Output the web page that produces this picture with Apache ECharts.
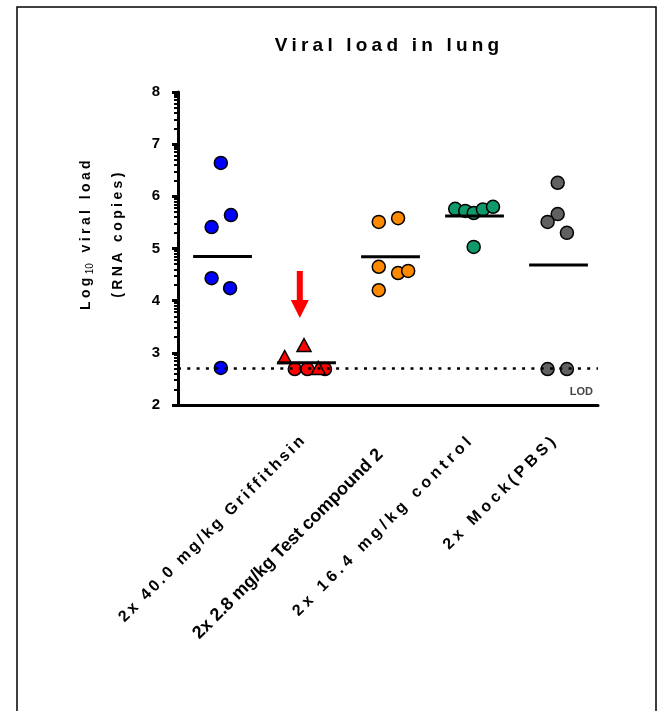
<!DOCTYPE html>
<html>
<head>
<meta charset="utf-8">
<script src="https://cdn.jsdelivr.net/npm/echarts@6/dist/echarts.min.js"></script>
<style>
  html, body { margin: 0; padding: 0; background: #fff; }
  #chart { width: 661px; height: 711px; }
</style>
</head>
<body>
<div id="chart"></div>
<script>
// labels under the x ticks (first tick has no label in the figure)
const tickLabels = ['', '2x 40.0 mg/kg Griffithsin', '2x 2.8 mg/kg Test compound 2', '2x 16.4 mg/kg control', '2x Mock(PBS)'];

// per-animal log10 viral load; x = group position (1..5) incl. jitter
const blueX = [1.01, 1.13, 0.90, 0.90, 1.12, 1.01];
const blueY = [6.64, 5.64, 5.41, 4.43, 4.24, 2.71];
const redCircleX = [1.89, 2.04, 2.25];
const redCircleY = [2.69, 2.69, 2.69];
const redTriangleX = [2.00, 1.77, 2.17];
const redTriangleY = [3.15, 2.92, 2.71];
const orangeX = [2.89, 3.12, 2.89, 3.12, 3.24, 2.89];
const orangeY = [5.51, 5.58, 4.65, 4.53, 4.57, 4.20];
const greenX = [3.80, 3.92, 4.02, 4.13, 4.25, 4.02];
const greenY = [5.76, 5.72, 5.68, 5.75, 5.80, 5.03];
const grayX = [5.02, 5.02, 4.90, 5.13, 4.90, 5.13];
const grayY = [6.26, 5.66, 5.51, 5.30, 2.69, 2.69];

const lodValue = 2.7;
// red arrow above the test compound group
const arrowX = 1.95;
const arrowY = [4.57, 3.84];

const zip = (xs, ys) => xs.map((x, i) => [x, ys[i]]);
const mean = arr => arr.reduce((a, b) => a + b, 0) / arr.length;
// wrap every character in a rich fragment so it gets letter spacing
const spaced = (txt, style) => txt.split('').map(c => '{' + style + '|' + c + '}').join('');

const groupMeans = [
  mean(blueY),
  mean(redCircleY.concat(redTriangleY)),
  mean(orangeY),
  mean(greenY),
  mean(grayY)
];

// log-style minor ticks between the integer ticks
const minorTicks = [];
for (let n = 2; n < 8; n++) {
  for (let k = 2; k <= 9; k++) minorTicks.push(n + Math.log10(k));
}

const scatter = (name, data, color, symbol, size) => ({
  name: name,
  type: 'scatter',
  xAxisIndex: 1,
  symbol: symbol,
  symbolSize: size,
  itemStyle: {color: color, borderColor: '#000', borderWidth: 1.5, opacity: 1},
  data: data,
  z: 3
});

const meanSeries = groupMeans.map((m, i) => ({
  type: 'line',
  xAxisIndex: 1,
  symbol: 'none',
  lineStyle: {color: '#000', width: 3},
  data: [[i + 1.03 - 0.35, m], [i + 1.03 + 0.35, m]],
  z: 4
}));

const xLabelFormatter = (v, i) => {
  if (v.indexOf('Test compound') >= 0) return '{b|' + v + '}';
  return spaced(v, i >= 3 ? 'd' : 'c');
};

const chart = echarts.init(document.getElementById('chart'));
const option = {
  animation: false,
  backgroundColor: '#fff',
  title: {
    text: spaced('Viral load in lung', 't'),
    left: 384,
    textAlign: 'center',
    top: 31,
    textStyle: {
      rich: {
        t: {fontFamily: 'Liberation Sans', fontSize: 19, fontWeight: 'bold', color: '#000', padding: [0, 4.2, 0, 0]}
      }
    }
  },
  graphic: [{
    type: 'rect',
    silent: true,
    shape: {x: 17, y: 7, width: 639, height: 720},
    style: {fill: 'none', stroke: '#000', lineWidth: 1.5}
  }],
  grid: {left: 178, right: 63, top: 92, bottom: 306, containLabel: false, outerBoundsMode: 'none'},
  xAxis: [
    {
      type: 'category',
      data: tickLabels,
      boundaryGap: true,
      axisLine: {lineStyle: {color: '#000', width: 3}},
      axisTick: {alignWithLabel: true, length: 8, lineStyle: {color: '#000', width: 3}},
      axisLabel: {
        interval: 0,
        rotate: 45,
        margin: 32,
        color: '#000',
        formatter: xLabelFormatter,
        rich: {
          b: {fontFamily: 'Liberation Sans', fontWeight: 'bold', fontSize: 18, color: '#000', padding: [10, 16, 0, 0]},
          c: {fontFamily: 'Liberation Sans', fontWeight: 'bold', fontSize: 16, color: '#000', padding: [0, 2.9, 0, 0]},
          d: {fontFamily: 'Liberation Sans', fontWeight: 'bold', fontSize: 16, color: '#000', padding: [0, 4.1, 0, 0]}
        }
      },
      splitLine: {show: false}
    },
    {type: 'value', min: 0.5, max: 5.5, show: false}
  ],
  yAxis: [
    {
      type: 'value',
      min: 2,
      max: 8,
      interval: 1,
      name: spaced('Log', 'a') + '{s|10}' + spaced(' viral load', 'a') + '\n' + spaced('(RNA copies)', 'a'),
      nameLocation: 'middle',
      nameRotate: 90,
      nameGap: 44,
      nameTextStyle: {
        padding: [0, 0, 0, 30],
        rich: {
          a: {fontFamily: 'Liberation Sans', fontWeight: 'bold', fontSize: 14, color: '#000', lineHeight: 32, padding: [0, 3.4, 0, 0]},
          s: {fontFamily: 'Liberation Sans', fontSize: 10, color: '#000', verticalAlign: 'middle', padding: [8, 3.4, 0, 0]}
        }
      },
      axisLine: {show: true, lineStyle: {color: '#000', width: 3}},
      axisTick: {show: true, length: 6, lineStyle: {color: '#000', width: 3}},
      axisLabel: {color: '#000', fontFamily: 'Liberation Sans', fontWeight: 'bold', fontSize: 15, margin: 18},
      splitLine: {show: false}
    },
    {
      type: 'value',
      min: 2,
      max: 8,
      position: 'left',
      axisLine: {show: false},
      axisTick: {show: true, customValues: minorTicks, length: 4, lineStyle: {color: '#000', width: 2}},
      axisLabel: {show: false},
      splitLine: {show: false}
    }
  ],
  series: [
    Object.assign(scatter('Griffithsin', zip(blueX, blueY), '#0000ff', 'circle', 13), {
      markLine: {
        silent: true,
        symbol: 'none',
        lineStyle: {color: '#000', width: 2.5, type: [3, 6.3]},
        label: {
          formatter: 'LOD',
          position: 'insideEndBottom',
          padding: [13, 0, 0, 0],
          fontFamily: 'Liberation Sans',
          fontWeight: 'bold',
          fontSize: 11,
          color: '#444'
        },
        data: [{yAxis: lodValue}]
      }
    }),
    scatter('Test compound 2', zip(redCircleX, redCircleY), '#ff0000', 'circle', 13),
    scatter('Test compound 2', zip(redTriangleX, redTriangleY), '#ff0000', 'triangle', [14, 13]),
    scatter('control', zip(orangeX, orangeY), '#ff8a00', 'circle', 13),
    scatter('16.4 control', zip(greenX, greenY), '#109a6a', 'circle', 13),
    scatter('Mock', zip(grayX, grayY), '#616161', 'circle', 13),
    ...meanSeries,
    {
      type: 'line',
      xAxisIndex: 1,
      showSymbol: true,
      lineStyle: {color: '#ff0000', width: 6},
      itemStyle: {color: '#ff0000'},
      data: [
        {value: [arrowX, arrowY[0]], symbol: 'none'},
        {value: [arrowX, arrowY[1]], symbol: 'triangle', symbolSize: [18, 18], symbolRotate: 180}
      ],
      z: 5
    }
  ]
};
chart.setOption(option);
</script>
</body>
</html>
